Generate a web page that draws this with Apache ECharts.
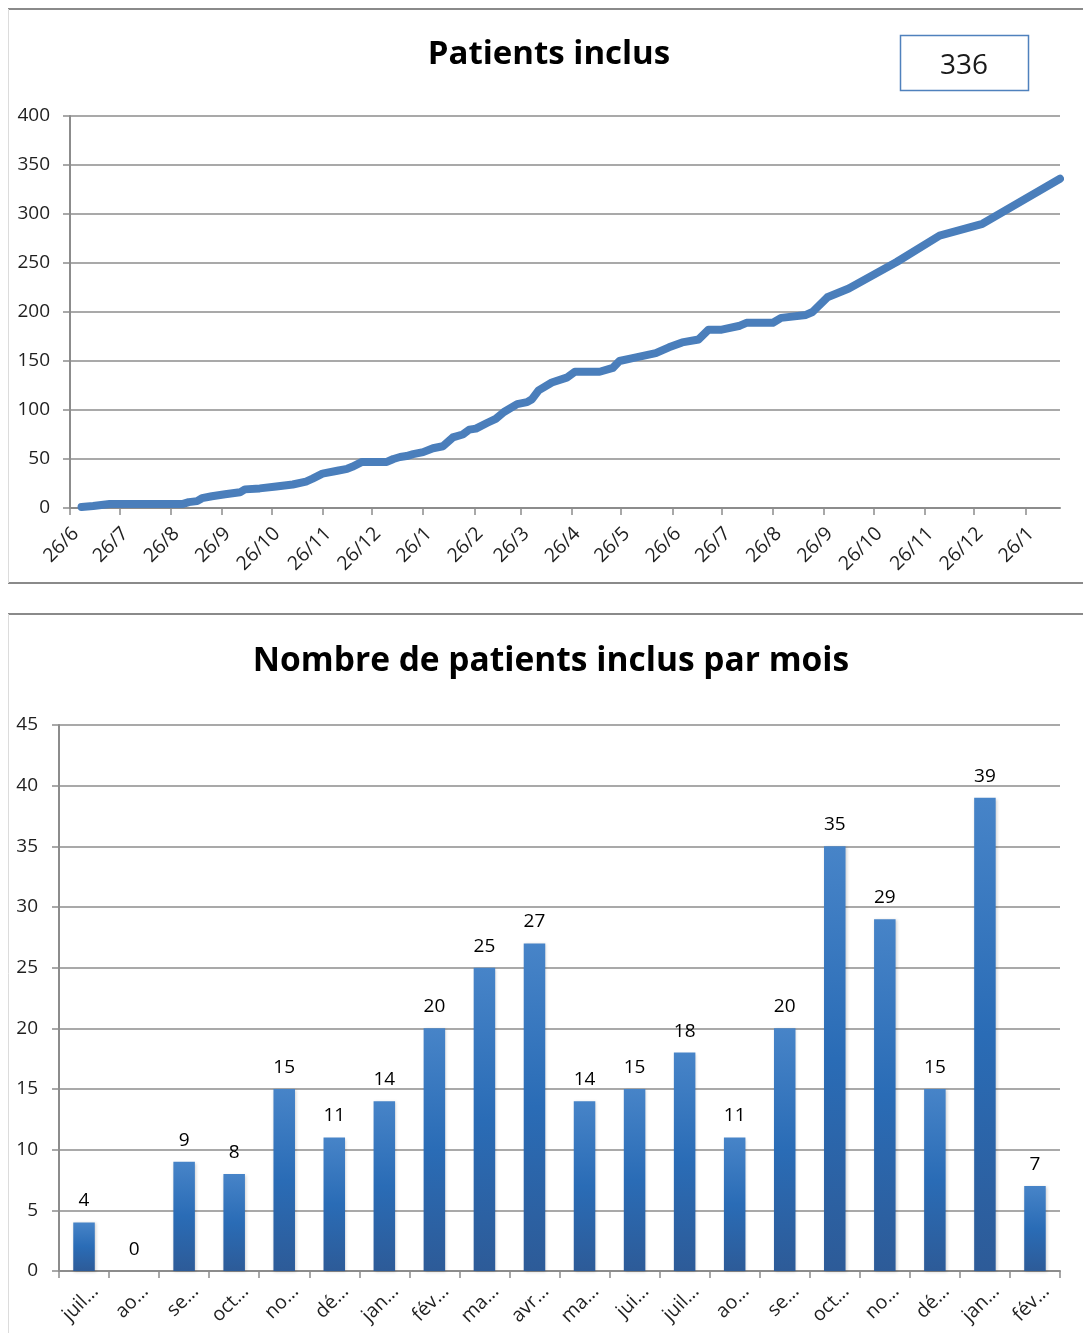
<!DOCTYPE html>
<html><head><meta charset="utf-8">
<script src="https://cdn.jsdelivr.net/npm/echarts@6/dist/echarts.min.js"></script>
<style>html,body{margin:0;padding:0;background:#fff}#c{width:1083px;height:1333px}</style>
</head><body><div id="c"></div>
<script>
// ---------- Data: cumulative inclusions ----------
const lineDates = ['2012-07-03','2012-07-10','2012-07-20','2012-09-02','2012-09-06','2012-09-11','2012-09-14','2012-09-20','2012-09-28','2012-10-07','2012-10-10','2012-10-19','2012-10-29','2012-11-08','2012-11-16','2012-11-20','2012-11-26','2012-12-05','2012-12-11','2012-12-14','2012-12-20','2013-01-04','2013-01-08','2013-01-12','2013-01-16','2013-01-20','2013-01-26','2013-02-01','2013-02-07','2013-02-13','2013-02-19','2013-02-23','2013-02-27','2013-03-06','2013-03-11','2013-03-16','2013-03-24','2013-03-30','2013-04-02','2013-04-06','2013-04-14','2013-04-23','2013-04-28','2013-05-13','2013-05-21','2013-05-25','2013-06-02','2013-06-16','2013-06-24','2013-07-02','2013-07-12','2013-07-18','2013-07-26','2013-08-06','2013-08-10','2013-08-26','2013-08-31','2013-09-15','2013-09-19','2013-09-28','2013-10-11','2013-11-09','2013-12-05','2013-12-31','2014-02-16'];
const lineValues = [1,2,4,4,6,7,10,12,14,16,19,20,22,24,27,30,35,38,40,42,47,47,50,52,53,55,57,61,63,72,75,80,81,87,91,98,106,108,111,120,128,133,139,139,143,150,153,158,164,169,172,182,182,186,189,189,194,197,200,215,224,251,278,290,336];
const lineTickDates = ['2012-06-26','2012-07-26','2012-08-26','2012-09-26','2012-10-26','2012-11-26','2012-12-26','2013-01-26','2013-02-26','2013-03-26','2013-04-26','2013-05-26','2013-06-26','2013-07-26','2013-08-26','2013-09-26','2013-10-26','2013-11-26','2013-12-26','2014-01-26'];
const lineAxisMin = '2012-06-26';
const lineAxisMax = '2014-02-16';
const totalPatients = 336;

// ---------- Data: monthly inclusions ----------
const monthLabels = ['juil\u2026','ao\u2026','se\u2026','oct\u2026','no\u2026','d\u00e9\u2026','jan\u2026','f\u00e9v\u2026','ma\u2026','avr\u2026','ma\u2026','jui\u2026','juil\u2026','ao\u2026','se\u2026','oct\u2026','no\u2026','d\u00e9\u2026','jan\u2026','f\u00e9v\u2026'];
const monthValues = [4,0,9,8,15,11,14,20,25,27,14,15,18,11,20,35,29,15,39,7];

function ts(s){const p=s.split('-');return new Date(+p[0],+p[1]-1,+p[2]).getTime();}

const FONT = '"Open Sans", "Noto Sans", sans-serif';
const GRID_C = '#8c8c8c';
const TXT = '#1f1f1f';

const chart = echarts.init(document.getElementById('c'), null, {renderer:'canvas'});
const tickTs = lineTickDates.map(ts);

chart.setOption({
  backgroundColor:'#fff',
  animation:false,
  title:[
    {text:'Patients inclus', left:544, top:33, textAlign:'center',
     textStyle:{fontFamily:FONT, fontWeight:'bold', fontSize:33, color:'#000'}},
    {text:'Nombre de patients inclus par mois', left:546, top:639, textAlign:'center',
     textStyle:{fontFamily:FONT, fontWeight:'bold', fontSize:33.5, color:'#000'}}
  ],
  graphic:[
    {type:'line', shape:{x1:8,y1:9,x2:1083,y2:9}, style:{stroke:'#8a8a8a', lineWidth:2}, silent:true},
    {type:'line', shape:{x1:8,y1:583,x2:1083,y2:583}, style:{stroke:'#8a8a8a', lineWidth:2}, silent:true},
    {type:'line', shape:{x1:8,y1:614,x2:1083,y2:614}, style:{stroke:'#8a8a8a', lineWidth:2}, silent:true},
    {type:'line', shape:{x1:8.5,y1:9,x2:8.5,y2:583}, style:{stroke:'#dcdcdc', lineWidth:1}, silent:true},
    {type:'line', shape:{x1:8.5,y1:614,x2:8.5,y2:1333}, style:{stroke:'#dcdcdc', lineWidth:1}, silent:true},
    {type:'rect', shape:{x:900.5,y:35.5,width:128,height:55}, style:{fill:'#fff', stroke:'#4f81bd', lineWidth:1.5}, silent:true},
    {type:'text', x:964, y:66, style:{text:String(totalPatients), fontFamily:FONT, fontSize:28, fill:'#1a1a1a', textAlign:'center', textVerticalAlign:'middle'}, silent:true}
  ],
  grid:[
    {left:70, right:23, top:116, height:392, containLabel:false},
    {left:59, right:23, top:725, height:546, containLabel:false}
  ],
  xAxis:[
    {type:'value', gridIndex:0, min:ts(lineAxisMin), max:ts(lineAxisMax),
     axisLine:{show:true, lineStyle:{color:GRID_C, width:2}},
     axisTick:{show:true, length:7, customValues:tickTs, lineStyle:{color:GRID_C, width:1.5}},
     splitLine:{show:false},
     axisLabel:{customValues:tickTs, rotate:45, margin:17, verticalAlign:'top', lineHeight:16,
       fontFamily:FONT, fontSize:19.5, color:TXT,
       formatter:function(v){const d=new Date(v);return d.getDate()+'/'+(d.getMonth()+1);}}},
    {type:'category', gridIndex:1, data:monthLabels, boundaryGap:true,
     axisLine:{show:true, lineStyle:{color:GRID_C, width:2}},
     axisTick:{show:true, length:7, lineStyle:{color:GRID_C, width:1.5}},
     axisLabel:{rotate:45, margin:6, interval:0, verticalAlign:'top', lineHeight:32,
       fontFamily:FONT, fontSize:19.5, color:TXT}}
  ],
  yAxis:[
    {type:'value', gridIndex:0, min:0, max:400, interval:50,
     axisLine:{show:true, lineStyle:{color:GRID_C, width:2}},
     axisTick:{show:true, length:7, lineStyle:{color:GRID_C, width:1.5}},
     splitLine:{show:true, lineStyle:{color:GRID_C, width:1.5}},
     axisLabel:{margin:20, fontFamily:FONT, fontSize:19, color:TXT}},
    {type:'value', gridIndex:1, min:0, max:45, interval:5,
     axisLine:{show:true, lineStyle:{color:GRID_C, width:2}},
     axisTick:{show:true, length:7, lineStyle:{color:GRID_C, width:1.5}},
     splitLine:{show:true, lineStyle:{color:GRID_C, width:1.5}},
     axisLabel:{margin:21, fontFamily:FONT, fontSize:19, color:TXT}}
  ],
  series:[
    {type:'line', xAxisIndex:0, yAxisIndex:0,
     data:lineDates.map((d,i)=>[ts(d), lineValues[i]]),
     showSymbol:false, smooth:false,
     lineStyle:{color:'#4a7ebb', width:8, cap:'round', join:'round'}},
    {type:'bar', xAxisIndex:1, yAxisIndex:1, data:monthValues, barWidth:'43%',
     itemStyle:{color:new echarts.graphic.LinearGradient(0,0,0,1,[
       {offset:0,color:'#4784c8'},{offset:0.5,color:'#2a6cb6'},{offset:1,color:'#2d5b98'}]),
       shadowColor:'rgba(0,0,0,0.18)', shadowBlur:3, shadowOffsetX:1, shadowOffsetY:1},
     label:{show:true, position:'top', distance:12, fontFamily:FONT, fontSize:19, color:'#000'}}
  ]
});
</script></body></html>
